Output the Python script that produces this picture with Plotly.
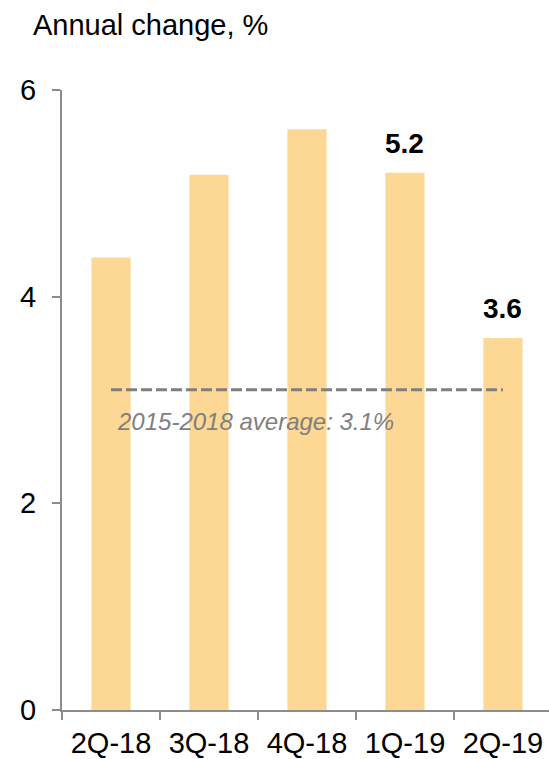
import plotly.graph_objects as go

# Quarterly annual change, %
quarters = ["2Q-18", "3Q-18", "4Q-18", "1Q-19", "2Q-19"]
annual_change = [4.38, 5.18, 5.62, 5.2, 3.6]
labelled = {"1Q-19": "5.2", "2Q-19": "3.6"}
avg_2015_2018 = 3.1
y_ticks = [0, 2, 4, 6]

FONT = "Liberation Sans, Arial, sans-serif"
BAR = "#FCD894"
AXIS = "#8c8c8c"
GREY_TXT = "#7f7f7f"

fig = go.Figure()

fig.add_trace(go.Bar(
    x=quarters, y=annual_change, width=0.4,
    marker=dict(color=BAR, line=dict(width=0)),
    hoverinfo="skip", showlegend=False,
))

# 2015-2018 average reference line spanning first to last quarter
fig.add_trace(go.Scatter(
    x=[quarters[0], quarters[-1]], y=[avg_2015_2018, avg_2015_2018],
    mode="lines", line=dict(color=GREY_TXT, width=3, dash="11px,4px"),
    hoverinfo="skip", showlegend=False,
))

fig.add_annotation(
    x=2, y=avg_2015_2018, xref="x", yref="y",
    text="<i>2015-2018 average: 3.1%</i>", showarrow=False,
    yanchor="top", yshift=-16, xshift=-51,
    font=dict(family=FONT, size=24, color=GREY_TXT),
)

for q, v in zip(quarters, annual_change):
    if q in labelled:
        fig.add_annotation(
            x=q, y=v, xref="x", yref="y", text="<b>" + labelled[q] + "</b>",
            showarrow=False, yanchor="bottom", yshift=12,
            font=dict(family=FONT, size=28, color="#000000"),
        )

fig.update_layout(
    width=549, height=759,
    margin=dict(l=62, r=0, t=90, b=47),
    paper_bgcolor="white", plot_bgcolor="white",
    font=dict(family=FONT, size=29, color="#000000"),
    title=dict(
        text="Annual change, %", xref="container", yref="container",
        x=33 / 549, xanchor="left", y=1 - 25 / 759, yanchor="middle",
        font=dict(family=FONT, size=29, color="#000000"),
    ),
    bargap=0.6,
)

fig.update_xaxes(
    type="category", range=[-0.5, 4.47],
    showline=True, linecolor=AXIS, linewidth=2,
    ticks="outside", tickson="boundaries", ticklen=8, tickwidth=2, tickcolor=AXIS,
    showgrid=False, zeroline=False, ticklabelstandoff=6,
    tickfont=dict(family=FONT, size=29, color="#000000"),
)
fig.update_yaxes(
    range=[0, 6], tickvals=y_ticks,
    showline=True, linecolor=AXIS, linewidth=2,
    ticks="outside", ticklen=8, tickwidth=2, tickcolor=AXIS,
    showgrid=False, zeroline=False, ticklabelstandoff=10,
    tickfont=dict(family=FONT, size=29, color="#000000"),
)

fig.write_html("out.html")
